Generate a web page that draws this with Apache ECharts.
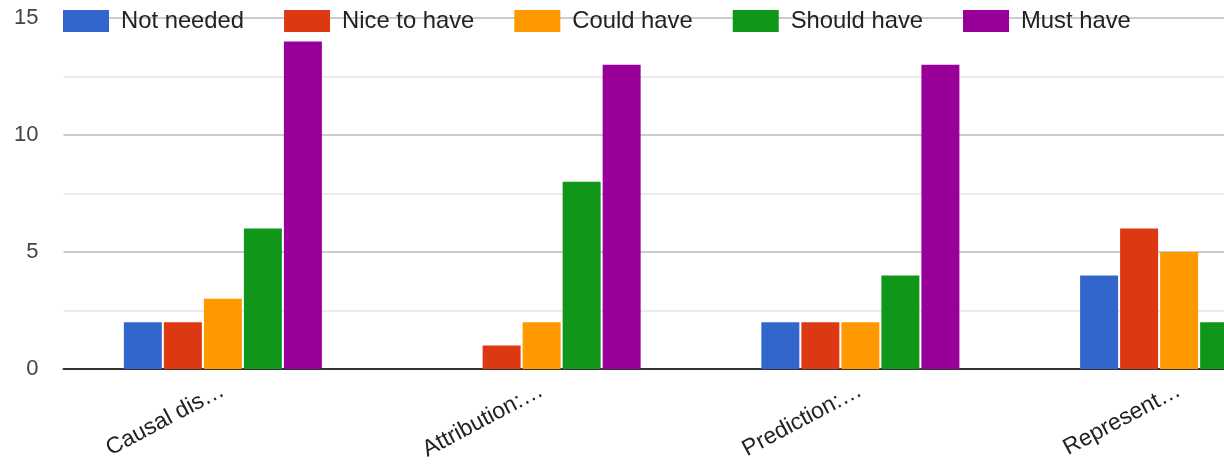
<!DOCTYPE html>
<html>
<head>
<meta charset="utf-8">
<script src="https://cdn.jsdelivr.net/npm/echarts@6/dist/echarts.min.js"></script>
<style>
  html, body { margin: 0; padding: 0; background: #fff; }
  #chart { width: 1224px; height: 464px; }
</style>
</head>
<body>
<div id="chart"></div>
<script>
// Survey answers: how needed is each capability
const categories = ['Causal dis…', 'Attribution:…', 'Prediction:…', 'Represent…'];
const seriesNames = ['Not needed', 'Nice to have', 'Could have', 'Should have', 'Must have'];
const notNeeded  = [2, 0, 2, 4];
const niceToHave = [2, 1, 2, 6];
const couldHave  = [3, 2, 2, 5];
const shouldHave = [6, 8, 4, 2];
const mustHave   = [14, 13, 13, 8];
const yTicks = [0, 5, 10, 15];

const colors = ['#3366cc', '#dc3912', '#ff9900', '#109618', '#990099'];
const values = [notNeeded, niceToHave, couldHave, shouldHave, mustHave];
const font = 'Arial, "Liberation Sans", sans-serif';

const chart = echarts.init(document.getElementById('chart'), null, { renderer: 'canvas' });

chart.setOption({
  animation: false,
  color: colors,
  textStyle: { fontFamily: font },
  legend: {
    data: seriesNames,
    left: 63,
    top: 9,
    icon: 'rect',
    itemWidth: 46,
    itemHeight: 22,
    itemGap: 40,
    padding: 0,
    textStyle: { fontSize: 23.8, color: '#222', fontFamily: font, padding: [0, 0, 0, 7] }
  },
  // the plot runs past the right edge of the canvas, so the last group is cut off
  grid: { left: 63.5, top: 18, width: 1275, bottom: 95, containLabel: false, outerBoundsMode: 'none' },
  xAxis: {
    type: 'category',
    data: categories,
    axisLine: { lineStyle: { color: '#333', width: 2 } },
    axisTick: { show: false },
    axisLabel: { rotate: 28, fontSize: 23, color: '#222', margin: 20, fontFamily: font }
  },
  yAxis: {
    type: 'value',
    min: yTicks[0],
    max: yTicks[yTicks.length - 1],
    interval: 5,
    axisLine: { show: false },
    axisTick: { show: false },
    axisLabel: { fontSize: 22, color: '#444', margin: 25, fontFamily: font },
    splitLine: { lineStyle: { color: '#cccccc', width: 2 } },
    minorTick: { show: false, splitNumber: 2 },
    minorSplitLine: { show: true, lineStyle: { color: '#ebebeb', width: 2 } }
  },
  series: seriesNames.map((name, i) => ({
    name: name,
    type: 'bar',
    data: values[i],
    barWidth: 38,
    barGap: '5.3%',
    z: 3
  }))
});
</script>
</body>
</html>
